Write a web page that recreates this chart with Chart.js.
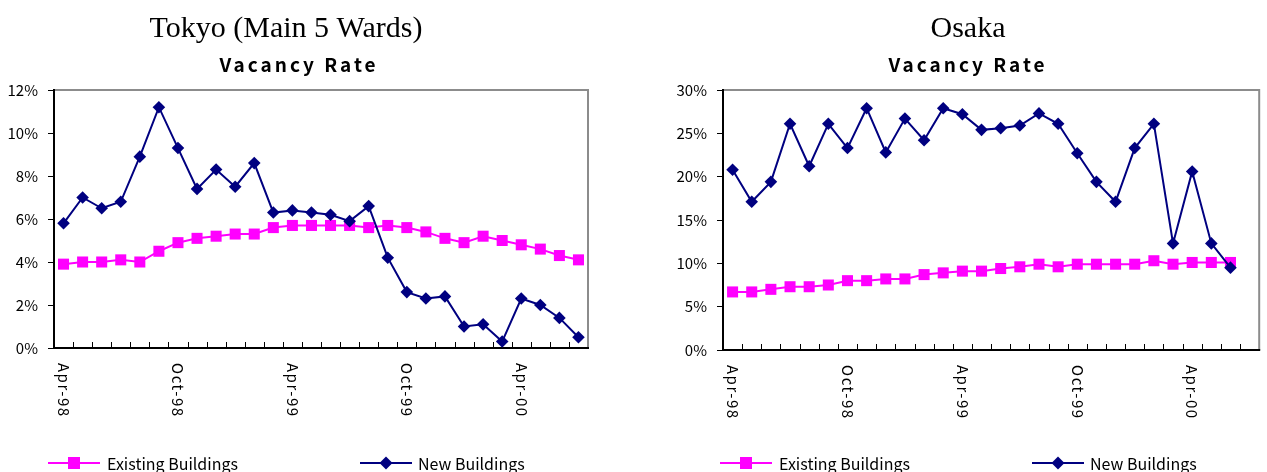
<!DOCTYPE html>
<html>
<head>
<meta charset="utf-8">
<title>Vacancy Rate</title>
<script src="https://cdn.jsdelivr.net/npm/chart.js@4.4.1/dist/chart.umd.min.js"></script>
<style>
  html, body { margin: 0; padding: 0; background: #fff; }
  body { width: 1267px; height: 472px; overflow: hidden; position: relative; }
  .panel { position: absolute; top: 0; height: 472px; }
  #tokyo-wrap { left: 0; width: 634px; }
  #osaka-wrap { left: 634px; width: 633px; }
</style>
</head>
<body>
<div class="panel" id="tokyo-wrap"><canvas id="tokyo" width="634" height="472"></canvas></div>
<div class="panel" id="osaka-wrap"><canvas id="osaka" width="633" height="472"></canvas></div>
<script>
// Monthly office vacancy rates (%), Apr-98 .. Jul-00
const months = ['Apr-98', 'May-98', 'Jun-98', 'Jul-98', 'Aug-98', 'Sep-98', 'Oct-98', 'Nov-98',
    'Dec-98', 'Jan-99', 'Feb-99', 'Mar-99', 'Apr-99', 'May-99', 'Jun-99', 'Jul-99', 'Aug-99',
    'Sep-99', 'Oct-99', 'Nov-99', 'Dec-99', 'Jan-00', 'Feb-00', 'Mar-00', 'Apr-00', 'May-00',
    'Jun-00', 'Jul-00'];

const tokyoExisting = [3.9, 4.0, 4.0, 4.1, 4.0, 4.5, 4.9, 5.1, 5.2, 5.3, 5.3, 5.6, 5.7, 5.7,
    5.7, 5.7, 5.6, 5.7, 5.6, 5.4, 5.1, 4.9, 5.2, 5.0, 4.8, 4.6, 4.3, 4.1];
const tokyoNew = [5.8, 7.0, 6.5, 6.8, 8.9, 11.2, 9.3, 7.4, 8.3, 7.5, 8.6, 6.3, 6.4, 6.3,
    6.2, 5.9, 6.6, 4.2, 2.6, 2.3, 2.4, 1.0, 1.1, 0.3, 2.3, 2.0, 1.4, 0.5];

// Osaka series stop at Jun-00
const osakaExisting = [6.7, 6.7, 7.0, 7.3, 7.3, 7.5, 8.0, 8.0, 8.2, 8.2, 8.7, 8.9, 9.1, 9.1,
    9.4, 9.6, 9.9, 9.6, 9.9, 9.9, 9.9, 9.9, 10.3, 9.9, 10.1, 10.1, 10.1];
const osakaNew = [20.8, 17.1, 19.4, 26.1, 21.2, 26.1, 23.3, 27.9, 22.8, 26.7, 24.2, 27.9, 27.2,
    25.4, 25.6, 25.9, 27.3, 26.1, 22.7, 19.4, 17.1, 23.3, 26.1, 12.3, 20.6, 12.3, 9.5];

const tokyoAxis = { max: 12, step: 2 };
const osakaAxis = { max: 30, step: 5 };

const MAGENTA = '#ff00ff';
const NAVY = '#000080';
const SANS = '"Noto Sans CJK JP", "DejaVu Sans", sans-serif';

function marker(ctx, style, x, y, r) {
    ctx.beginPath();
    if (style === 'rect') {
        const s = Math.SQRT1_2 * r;
        ctx.rect(x - s, y - s, 2 * s, 2 * s);
    } else {
        ctx.moveTo(x - r, y);
        ctx.lineTo(x, y - r);
        ctx.lineTo(x + r, y);
        ctx.lineTo(x, y + r);
        ctx.closePath();
    }
    ctx.fill();
}

// Frame, inward month ticks, titles, rotated month labels and the legend
const panelDecor = {
    id: 'panelDecor',
    beforeDatasetsDraw(chart, args, o) {
        const { ctx, chartArea: a } = chart;
        const xs = chart.scales.x;
        ctx.save();
        ctx.lineWidth = 2;
        ctx.strokeStyle = '#8c8c8c';
        ctx.beginPath();
        ctx.moveTo(a.left, a.top);
        ctx.lineTo(a.right, a.top);
        ctx.lineTo(a.right, a.bottom);
        ctx.stroke();
        ctx.strokeStyle = '#000';
        ctx.beginPath();
        ctx.moveTo(a.left, a.top - 1);
        ctx.lineTo(a.left, a.bottom);
        ctx.lineTo(a.right + 1, a.bottom);
        ctx.stroke();

        ctx.lineWidth = 1;
        ctx.beginPath();
        for (let i = 1; i < months.length; i++) {
            const bx = Math.round((xs.getPixelForValue(i - 1) + xs.getPixelForValue(i)) / 2) + 0.5;
            ctx.moveTo(bx, a.bottom);
            ctx.lineTo(bx, a.bottom - 6);
        }
        ctx.stroke();
        ctx.restore();
    },
    afterDraw(chart, args, o) {
        const { ctx, chartArea: a } = chart;
        const xs = chart.scales.x;
        ctx.save();
        ctx.fillStyle = '#000';

        ctx.textAlign = 'center';
        ctx.textBaseline = 'alphabetic';
        ctx.font = '30px "Liberation Serif", "DejaVu Serif", serif';
        ctx.fillText(o.city, o.cityX, 37);

        ctx.font = 'bold 19px ' + SANS;
        ctx.letterSpacing = '3px';
        ctx.fillText('Vacancy Rate', o.titleX, 72);
        ctx.letterSpacing = '1.5px';

        // half-yearly month labels, read top to bottom
        ctx.font = '15px ' + SANS;
        ctx.textAlign = 'left';
        ctx.textBaseline = 'middle';
        months.forEach((m, i) => {
            if (i % 6 !== 0) return;
            ctx.save();
            ctx.translate(xs.getPixelForValue(i), a.bottom + 15);
            ctx.rotate(Math.PI / 2);
            ctx.fillText(m, 0, 0);
            ctx.restore();
        });
        ctx.letterSpacing = '0px';

        ctx.font = '16px ' + SANS;
        chart.data.datasets.forEach((ds, k) => {
            const L = o.legend[k];
            const y = 463;
            ctx.strokeStyle = ds.borderColor;
            ctx.fillStyle = ds.borderColor;
            ctx.lineWidth = 2;
            ctx.beginPath();
            ctx.moveTo(L.x1, y);
            ctx.lineTo(L.x2, y);
            ctx.stroke();
            marker(ctx, ds.pointStyle, (L.x1 + L.x2) / 2, y, ds.pointStyle === 'rect' ? 8.5 : 6.5);
            ctx.fillStyle = '#000';
            ctx.fillText(ds.label, L.tx, y + 1);
        });
        ctx.restore();
    }
};

function buildChart(id, existing, newer, axis, panel) {
    return new Chart(document.getElementById(id), {
        type: 'line',
        data: {
            labels: months,
            datasets: [{
                label: 'Existing Buildings',
                data: existing,
                borderColor: MAGENTA,
                backgroundColor: MAGENTA,
                borderWidth: 2,
                pointStyle: 'rect',
                pointRadius: 7.8,
                pointBorderWidth: 0,
                tension: 0,
                clip: false,
                order: 1
            }, {
                label: 'New Buildings',
                data: newer,
                borderColor: NAVY,
                backgroundColor: NAVY,
                borderWidth: 2,
                pointStyle: 'rectRot',
                pointRadius: 6.3,
                pointBorderWidth: 0,
                tension: 0,
                clip: false,
                order: 0
            }]
        },
        options: {
            responsive: false,
            animation: false,
            events: [],
            layout: {
                padding: { top: 90, right: panel.padRight, left: 0, bottom: 0 }
            },
            plugins: {
                legend: { display: false },
                tooltip: { enabled: false },
                panelDecor: panel
            },
            scales: {
                x: {
                    type: 'category',
                    offset: true,
                    ticks: { display: false },
                    grid: { display: false },
                    border: { display: false },
                    afterFit: s => { s.height = panel.xHeight; }
                },
                y: {
                    min: 0,
                    max: axis.max,
                    ticks: {
                        stepSize: axis.step,
                        padding: 10,
                        color: '#000',
                        font: { family: SANS, size: 15 },
                        callback: v => v + '%'
                    },
                    grid: {
                        drawOnChartArea: false,
                        drawTicks: true,
                        tickLength: 6,
                        color: '#000'
                    },
                    border: { display: false },
                    afterFit: s => { s.width = panel.yWidth; }
                }
            }
        },
        plugins: [panelDecor]
    });
}

buildChart('tokyo', tokyoExisting, tokyoNew, tokyoAxis, {
    city: 'Tokyo (Main 5 Wards)', cityX: 286, titleX: 299,
    yWidth: 54, xHeight: 124, padRight: 46,
    legend: [{ x1: 48, x2: 100, tx: 107 }, { x1: 360, x2: 412, tx: 418 }]
});

buildChart('osaka', osakaExisting, osakaNew, osakaAxis, {
    city: 'Osaka', cityX: 334, titleX: 334,
    yWidth: 89, xHeight: 122, padRight: 7,
    legend: [{ x1: 86, x2: 138, tx: 145 }, { x1: 398, x2: 450, tx: 456 }]
});
</script>
</body>
</html>
